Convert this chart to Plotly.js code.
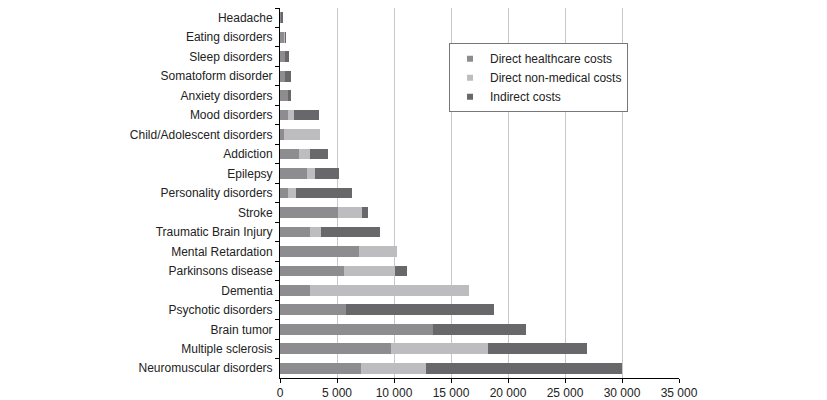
<!DOCTYPE html>
<html>
<head>
<meta charset="utf-8">
<script src="https://cdn.plot.ly/plotly-3.0.1.min.js"></script>
<style>html,body{margin:0;padding:0;background:#fff;}#chart{width:827px;height:400px;}</style>
</head>
<body>
<div id="chart"></div>
<script>
const categories = ["Headache","Eating disorders","Sleep disorders","Somatoform disorder","Anxiety disorders","Mood disorders","Child/Adolescent disorders","Addiction","Epilepsy","Personality disorders","Stroke","Traumatic Brain Injury","Mental Retardation","Parkinsons disease","Dementia","Psychotic disorders","Brain tumor","Multiple sclerosis","Neuromuscular disorders"];
const directHealthcare = [100, 350, 400, 400, 700, 670, 350, 1700, 2350, 700, 5100, 2650, 6950, 5600, 2650, 5800, 13400, 9750, 7100];
const directNonMedical = [0, 100, 0, 0, 0, 560, 3200, 950, 700, 670, 2100, 950, 3350, 4450, 13900, 0, 0, 8500, 5700];
const indirectCosts = [150, 80, 350, 600, 300, 2200, 0, 1550, 2100, 4950, 550, 5200, 0, 1050, 0, 12950, 8150, 8700, 17200];
const seriesNames = ["Direct healthcare costs", "Direct non-medical costs", "Indirect costs"];
const xTicks = [0, 5000, 10000, 15000, 20000, 25000, 30000, 35000];

const colors = ["#8d8d90", "#bdbdc0", "#68686b"];
const values = [directHealthcare, directNonMedical, indirectCosts];
const traces = values.map((v, i) => ({
  type: "bar",
  orientation: "h",
  name: seriesNames[i],
  x: v,
  y: categories,
  marker: {color: colors[i], line: {width: 0}},
  showlegend: false,
  hoverinfo: "x+name"
}));
// legend entries with small square symbols
seriesNames.forEach((n, i) => traces.push({
  type: "scatter",
  mode: "markers",
  name: n,
  x: [null],
  y: [null],
  marker: {symbol: "square", size: 6, color: colors[i]},
  showlegend: true
}));

const layout = {
  width: 827, height: 400,
  margin: {l: 280, r: 148, t: 8, b: 22, pad: 0},
  barmode: "stack",
  bargap: 0.45,
  separators: ". ",
  paper_bgcolor: "#fff",
  plot_bgcolor: "#fff",
  font: {family: "Liberation Sans, Arial, sans-serif", size: 12, color: "#222"},
  showlegend: true,
  legend: {
    x: 0.4236, y: 0.905, xanchor: "left", yanchor: "top",
    bordercolor: "#777", borderwidth: 1, bgcolor: "#fff",
    font: {size: 12, color: "#222"},
    traceorder: "normal",
    itemwidth: 30
  },
  xaxis: {
    range: [0, 35000],
    tickvals: xTicks,
    tickformat: ",d",
    separatethousands: true,
    showgrid: true, gridcolor: "#c8c8c8", gridwidth: 1,
    zeroline: false,
    showline: true, linecolor: "#000", linewidth: 1,
    ticks: "outside", ticklen: 4, tickcolor: "#000",
    tickfont: {size: 12, color: "#222"},
    fixedrange: true
  },
  yaxis: {
    type: "category",
    autorange: "reversed",
    showline: true, linecolor: "#000", linewidth: 1,
    ticks: "outside", ticklen: 4, tickcolor: "#000",
    tickson: "boundaries",
    showgrid: false,
    tickfont: {size: 12, color: "#222"},
    ticklabelstandoff: 4
  }
};

Plotly.newPlot("chart", traces, layout, {displayModeBar: false, staticPlot: true});
</script>
</body>
</html>
